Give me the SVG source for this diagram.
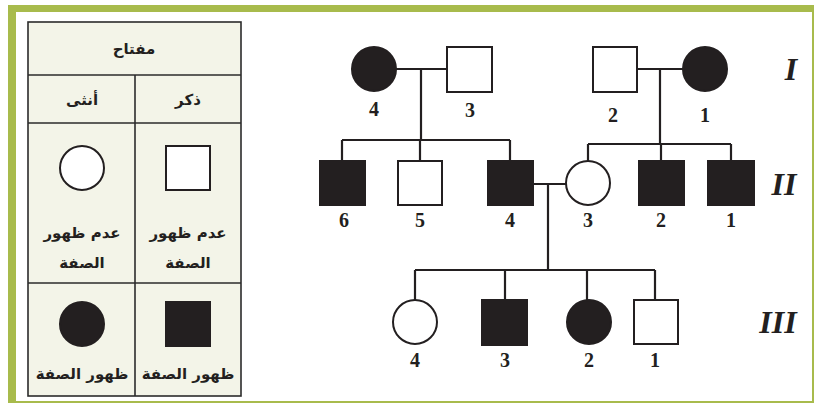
<svg xmlns="http://www.w3.org/2000/svg" width="815" height="404" viewBox="0 0 815 404">
<style>
.frame{fill:#a8bb4c}
.tbl{fill:#f3f4e8;stroke:#2b2b2b;stroke-width:1.6}
.tl{stroke:#2b2b2b;stroke-width:1.6;fill:none}
.ar{font-family:"DejaVu Sans",sans-serif;font-weight:bold;font-size:15px;fill:#231f20;text-anchor:middle;direction:rtl}
.o{fill:#fff;stroke:#231f20;stroke-width:2}
.f{fill:#231f20;stroke:#231f20;stroke-width:2}
.ln{stroke:#231f20;stroke-width:2.2;fill:none}
.num{font-family:"Liberation Serif",serif;font-weight:bold;font-size:20px;fill:#231f20;text-anchor:middle}
.gen{font-family:"Liberation Serif",serif;font-weight:bold;font-style:italic;font-size:32px;fill:#231f20;text-anchor:middle}
</style>
<rect width="815" height="404" fill="#fff"/>
<g id="frame">
<rect class="frame" x="8" y="5" width="806" height="7"/>
<rect class="frame" x="8" y="5" width="8" height="398"/>
<rect class="frame" x="812" y="5" width="2" height="398"/>
<rect class="frame" x="8" y="401" width="806" height="2"/>
</g>
<g id="key">
<rect class="tbl" x="28" y="22" width="213" height="374"/>
<line class="tl" x1="28" y1="75" x2="241" y2="75"/>
<line class="tl" x1="28" y1="123" x2="241" y2="123"/>
<line class="tl" x1="28" y1="283" x2="241" y2="283"/>
<line class="tl" x1="135" y1="75" x2="135" y2="396"/>
<text class="ar" x="134" y="54">مفتاح</text>
<text class="ar" x="82" y="105">أنثى</text>
<text class="ar" x="188" y="105">ذكر</text>
<circle class="o" cx="82" cy="168" r="22"/>
<rect class="o" x="166" y="146" width="44" height="44"/>
<text class="ar" x="82" y="238">عدم ظهور</text>
<text class="ar" x="82" y="268">الصفة</text>
<text class="ar" x="188" y="238">عدم ظهور</text>
<text class="ar" x="188" y="268">الصفة</text>
<circle class="f" cx="82" cy="324" r="22"/>
<rect class="f" x="166" y="302" width="44" height="44"/>
<text class="ar" x="82" y="379">ظهور الصفة</text>
<text class="ar" x="188" y="379">ظهور الصفة</text>
</g>
<g id="connectors">
<path class="ln" d="M396 69 H447 M421 69 V140 M342 140 H510 M342 140 V161 M420 140 V161 M510 140 V161"/>
<path class="ln" d="M637 69 H683 M660 69 V144 M588 144 H731 M588 144 V161 M661 144 V161 M731 144 V161"/>
<path class="ln" d="M533 184 H566 M548 184 V270 M415 270 H655 M415 270 V300 M505 270 V300 M587 270 V300 M655 270 V300"/>
</g>
<g id="I-4"><circle class="f" cx="374" cy="69" r="22"/><text class="num" x="374" y="116">4</text></g>
<g id="I-3"><rect class="o" x="447" y="47" width="45" height="45"/><text class="num" x="470" y="117">3</text></g>
<g id="I-2"><rect class="o" x="593" y="47" width="44" height="45"/><text class="num" x="613" y="122">2</text></g>
<g id="I-1"><circle class="f" cx="705" cy="69" r="22"/><text class="num" x="705" y="122">1</text></g>
<g id="II-6"><rect class="f" x="320" y="161" width="45" height="44"/><text class="num" x="344" y="227">6</text></g>
<g id="II-5"><rect class="o" x="398" y="161" width="44" height="44"/><text class="num" x="420" y="227">5</text></g>
<g id="II-4"><rect class="f" x="488" y="161" width="45" height="44"/><text class="num" x="510" y="227">4</text></g>
<g id="II-3"><circle class="o" cx="588" cy="183" r="22"/><text class="num" x="588" y="227">3</text></g>
<g id="II-2"><rect class="f" x="639" y="161" width="45" height="44"/><text class="num" x="661" y="227">2</text></g>
<g id="II-1"><rect class="f" x="708" y="161" width="46" height="44"/><text class="num" x="731" y="227">1</text></g>
<g id="III-4"><circle class="o" cx="415" cy="322" r="22"/><text class="num" x="415" y="367">4</text></g>
<g id="III-3"><rect class="f" x="482" y="300" width="45" height="45"/><text class="num" x="505" y="367">3</text></g>
<g id="III-2"><circle class="f" cx="589" cy="322" r="22"/><text class="num" x="589" y="367">2</text></g>
<g id="III-1"><rect class="o" x="634" y="300" width="44" height="44"/><text class="num" x="655" y="367">1</text></g>
<g id="generations">
<text class="gen" x="791" y="80">I</text>
<text class="gen" x="784" y="195">II</text>
<text class="gen" x="778" y="333">III</text>
</g>
</svg>
